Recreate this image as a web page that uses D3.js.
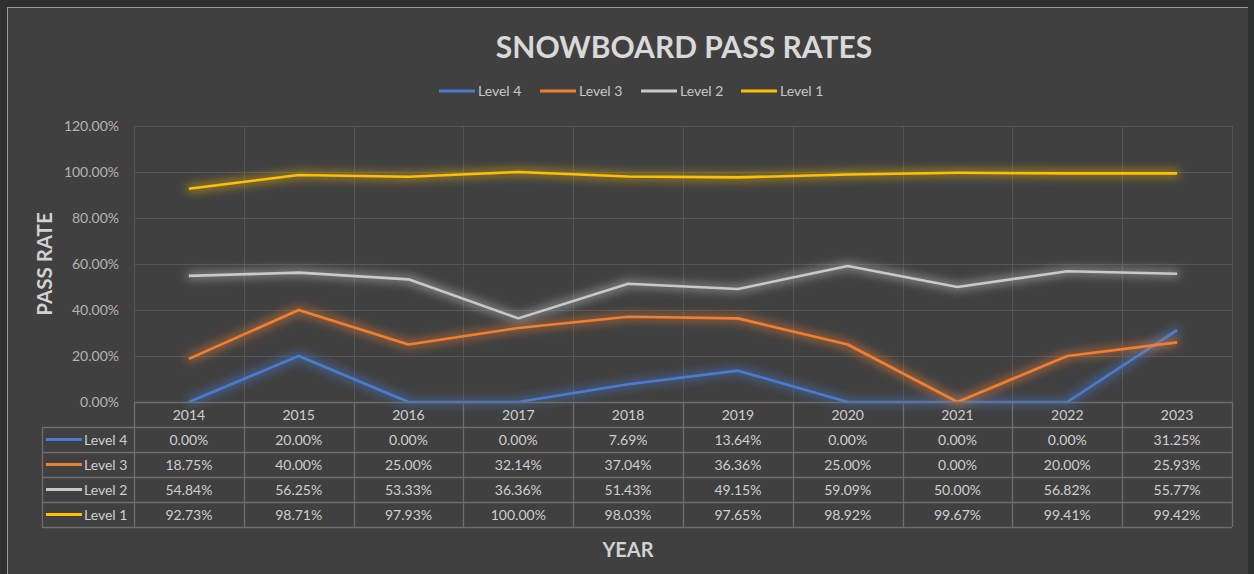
<!DOCTYPE html>
<html>
<head>
<meta charset="utf-8">
<script src="https://cdn.jsdelivr.net/npm/d3@7"></script>
<style>
  html, body { margin: 0; padding: 0; background: #2f3030; }
  svg { display: block; }
  text { font-family: Lato, "Open Sans", sans-serif; }
</style>
</head>
<body>
<div id="chart"></div>
<script>
// ---- Data ----
const years = ["2014", "2015", "2016", "2017", "2018", "2019", "2020", "2021", "2022", "2023"];
const seriesNames = ["Level 4", "Level 3", "Level 2", "Level 1"];
const level4 = [0.00, 20.00, 0.00, 0.00, 7.69, 13.64, 0.00, 0.00, 0.00, 31.25];
const level3 = [18.75, 40.00, 25.00, 32.14, 37.04, 36.36, 25.00, 0.00, 20.00, 25.93];
const level2 = [54.84, 56.25, 53.33, 36.36, 51.43, 49.15, 59.09, 50.00, 56.82, 55.77];
const level1 = [92.73, 98.71, 97.93, 100.00, 98.03, 97.65, 98.92, 99.67, 99.41, 99.42];
const yTicks = [0, 20, 40, 60, 80, 100, 120];

const seriesValues = [level4, level3, level2, level1];
const seriesColors = ["#4a7bd0", "#f07f30", "#c9c9c9", "#ffc000"];

// ---- Layout ----
const W = 1254, H = 574;
const plotLeft = 134, plotRight = 1232, plotTop = 126, plotBottom = 402;
const rowH = 25;

const svg = d3.select("#chart").append("svg")
  .attr("width", W)
  .attr("height", H);

// Panel
svg.append("rect")
  .attr("x", 7).attr("y", 7)
  .attr("width", 1241).attr("height", H)
  .attr("fill", "#404040");
svg.append("line")
  .attr("x1", 7).attr("x2", 1248).attr("y1", 7.5).attr("y2", 7.5)
  .attr("stroke", "#9a9a9a").attr("stroke-width", 1);
svg.append("line")
  .attr("x1", 7.5).attr("x2", 7.5).attr("y1", 7).attr("y2", H)
  .attr("stroke", "#9a9a9a").attr("stroke-width", 1);

// Glow filter
const defs = svg.append("defs");
seriesColors.forEach((c, i) => {
  const f = defs.append("filter")
    .attr("id", "glow" + i)
    .attr("x", "-10%").attr("y", "-60%")
    .attr("width", "120%").attr("height", "220%");
  f.append("feMorphology")
    .attr("in", "SourceGraphic")
    .attr("operator", "dilate")
    .attr("radius", 2)
    .attr("result", "thick");
  f.append("feGaussianBlur")
    .attr("in", "thick")
    .attr("stdDeviation", 5)
    .attr("result", "blur");
  f.append("feComponentTransfer")
    .attr("in", "blur").attr("result", "soft")
    .append("feFuncA").attr("type", "linear").attr("slope", 0.55);
  const m = f.append("feMerge");
  m.append("feMergeNode").attr("in", "soft");
  m.append("feMergeNode").attr("in", "SourceGraphic");
});

// Scales
const x = d3.scaleBand()
  .domain(years)
  .range([plotLeft, plotRight]);
const y = d3.scaleLinear()
  .domain([0, 120])
  .range([plotBottom, plotTop]);

// Gridlines
const grid = svg.append("g");
yTicks.forEach(t => {
  grid.append("line")
    .attr("x1", plotLeft).attr("x2", plotRight)
    .attr("y1", Math.round(y(t)) + 0.5).attr("y2", Math.round(y(t)) + 0.5)
    .attr("stroke", "#555555").attr("stroke-width", 1);
});
years.concat(["end"]).forEach((yr, i) => {
  const xx = plotLeft + i * x.bandwidth();
  grid.append("line")
    .attr("x1", Math.round(xx) + 0.5).attr("x2", Math.round(xx) + 0.5)
    .attr("y1", plotTop).attr("y2", plotBottom)
    .attr("stroke", "#555555").attr("stroke-width", 1);
});

// Y axis labels
const yAxis = d3.axisLeft(y)
  .tickValues(yTicks)
  .tickSize(0)
  .tickPadding(0)
  .tickFormat(d => d.toFixed(2) + "%");
svg.append("g")
  .attr("transform", `translate(119,0)`)
  .call(yAxis)
  .call(g => g.select(".domain").remove())
  .selectAll("text")
  .attr("fill", "#b4b4b4")
  .attr("font-size", "14px")
  .attr("font-family", "Lato, sans-serif");

// Lines
const line = d3.line()
  .x((d, i) => x(years[i]) + x.bandwidth() / 2)
  .y(d => y(d));

seriesValues.forEach((vals, i) => {
  svg.append("path")
    .datum(vals)
    .attr("d", line)
    .attr("fill", "none")
    .attr("stroke", seriesColors[i])
    .attr("stroke-width", 2.6)
    .attr("stroke-linejoin", "round")
    .attr("filter", `url(#glow${i})`);
});

// Data table
const tableColor = "#6e6e6e";
const tableTextColor = "#cfcfcf";
const table = svg.append("g");
const tableBottom = plotBottom + rowH * 5;
const legendLeft = 42;

// horizontal lines
for (let r = 0; r <= 5; r++) {
  const yy = plotBottom + r * rowH + 0.5;
  table.append("line")
    .attr("x1", r === 0 ? plotLeft : legendLeft).attr("x2", plotRight)
    .attr("y1", yy).attr("y2", yy)
    .attr("stroke", tableColor).attr("stroke-width", 1.3);
}
// vertical lines
for (let c = 0; c <= years.length; c++) {
  const xx = Math.round(plotLeft + c * x.bandwidth()) + 0.5;
  table.append("line")
    .attr("x1", xx).attr("x2", xx)
    .attr("y1", plotBottom).attr("y2", tableBottom)
    .attr("stroke", tableColor).attr("stroke-width", 1.3);
}
table.append("line")
  .attr("x1", legendLeft + 0.5).attr("x2", legendLeft + 0.5)
  .attr("y1", plotBottom + rowH).attr("y2", tableBottom)
  .attr("stroke", tableColor).attr("stroke-width", 1.3);

// header years
table.selectAll(".yr")
  .data(years)
  .join("text")
  .attr("x", d => x(d) + x.bandwidth() / 2)
  .attr("y", plotBottom + rowH / 2 + 5)
  .attr("text-anchor", "middle")
  .attr("font-size", "14px")
  .attr("fill", tableTextColor)
  .text(d => d);

// rows
seriesNames.forEach((name, r) => {
  const cy = plotBottom + (r + 1) * rowH + rowH / 2;
  table.append("line")
    .attr("x1", 46).attr("x2", 82)
    .attr("y1", cy).attr("y2", cy)
    .attr("stroke", seriesColors[r])
    .attr("stroke-width", 3);
  table.append("text")
    .attr("x", 84)
    .attr("y", cy + 5)
    .attr("font-size", "14px")
    .attr("fill", tableTextColor)
    .text(name);
  seriesValues[r].forEach((v, c) => {
    table.append("text")
      .attr("x", x(years[c]) + x.bandwidth() / 2)
      .attr("y", cy + 5)
      .attr("text-anchor", "middle")
      .attr("font-size", "14px")
      .attr("fill", tableTextColor)
      .text(v.toFixed(2) + "%");
  });
});

// Title
svg.append("text")
  .attr("x", 684)
  .attr("y", 58)
  .attr("text-anchor", "middle")
  .attr("font-size", "30px")
  .attr("font-weight", "bold")
  .attr("fill", "#d9d9d9")
  .text("SNOWBOARD PASS RATES");

// Legend
const legendX = [439, 540, 641, 741];
seriesNames.forEach((name, i) => {
  const g = svg.append("g").attr("transform", `translate(${legendX[i]},91)`);
  g.append("line")
    .attr("x1", 0).attr("x2", 36)
    .attr("stroke", seriesColors[i])
    .attr("stroke-width", 3);
  g.append("text")
    .attr("x", 39).attr("y", 5)
    .attr("font-size", "14px")
    .attr("fill", "#c8c8c8")
    .text(name);
});

// Axis titles
svg.append("text")
  .attr("transform", "translate(52,264) rotate(-90)")
  .attr("text-anchor", "middle")
  .attr("font-size", "20.5px")
  .attr("font-weight", "bold")
  .attr("fill", "#d2d2d2")
  .text("PASS RATE");

svg.append("text")
  .attr("x", 628)
  .attr("y", 557)
  .attr("text-anchor", "middle")
  .attr("font-size", "20px")
  .attr("font-weight", "bold")
  .attr("fill", "#d2d2d2")
  .text("YEAR");
</script>
</body>
</html>
